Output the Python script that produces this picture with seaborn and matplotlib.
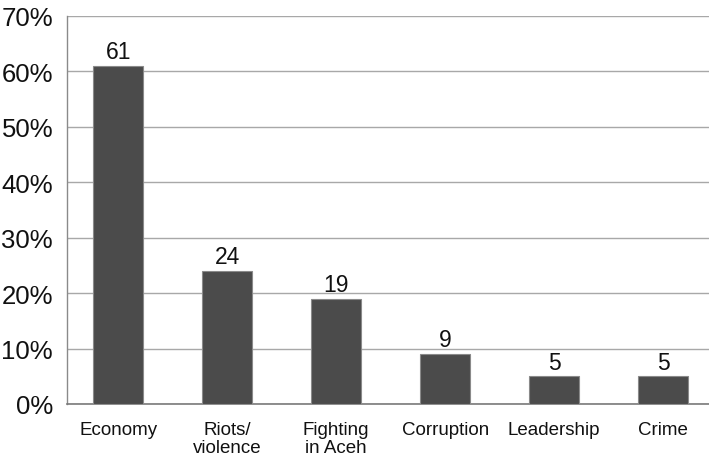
import matplotlib
matplotlib.use("Agg")
import matplotlib.pyplot as plt
import seaborn as sns
import pandas as pd
from matplotlib.ticker import FuncFormatter

# -------------------------------
# Data
# -------------------------------
categories = ["Economy", "Riots/\nviolence", "Fighting\nin Aceh", "Corruption", "Leadership", "Crime"]
values = [61, 24, 19, 9, 5, 5]
y_ticks = [0, 10, 20, 30, 40, 50, 60, 70]

df = pd.DataFrame({"category": categories, "value": values})

# -------------------------------
# Style
# -------------------------------
sns.set_style("white")
plt.rcParams["font.family"] = ["Liberation Sans", "DejaVu Sans"]

fig = plt.figure(figsize=(7.09, 4.56), dpi=100)
ax = fig.add_axes([67 / 709, 51 / 456, 642 / 709, 388 / 456])

sns.barplot(data=df, x="category", y="value", color="#4b4b4b",
            width=0.46, edgecolor="#8a8a8a", linewidth=0.8, saturation=1, ax=ax, zorder=3)

for i, v in enumerate(values):
    ax.text(i, v + 0.5, str(v), ha="center", va="bottom", fontsize=16.5, color="#111111")

ax.set_ylim(0, 70)
ax.set_xlim(-0.47, 5.42)
ax.set_yticks(y_ticks)
ax.yaxis.set_major_formatter(FuncFormatter(lambda v, _: f"{int(v)}%"))
ax.yaxis.grid(True, color="#a8a8a8", linewidth=1, zorder=0)
ax.set_axisbelow(True)

ax.tick_params(axis="y", length=0, pad=10, labelsize=18.5, labelcolor="#111111")
ax.tick_params(axis="x", length=0, pad=12, labelsize=13.5, labelcolor="#111111")
for lbl in ax.get_xticklabels():
    lbl.set_linespacing(1.1)
ax.set_xlabel("")
ax.set_ylabel("")

for side in ["top", "right"]:
    ax.spines[side].set_visible(False)
ax.spines["left"].set_color("#8a8a8a")
ax.spines["bottom"].set_color("#7a7a7a")
ax.spines["left"].set_linewidth(1)
ax.spines["bottom"].set_linewidth(1.2)

fig.savefig("out.png", dpi=100)
